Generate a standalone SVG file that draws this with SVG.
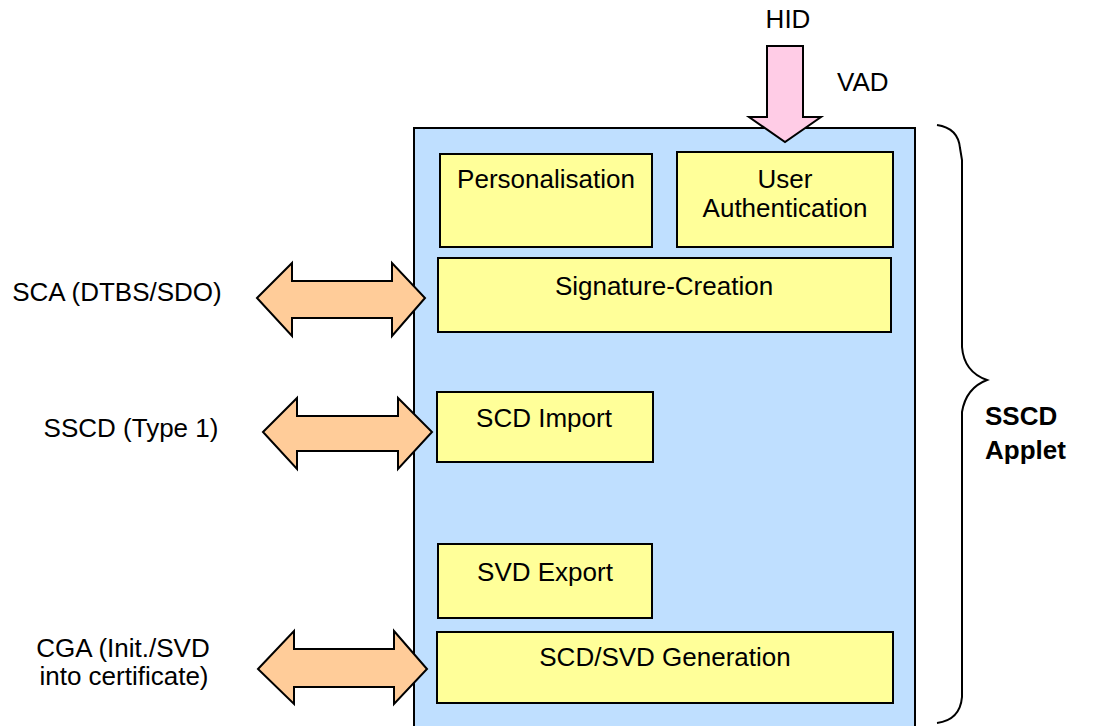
<svg xmlns="http://www.w3.org/2000/svg" width="1096" height="726" viewBox="0 0 1096 726">
<style>
.box{fill:#FFFF99;stroke:#000;stroke-width:2}
.outer{fill:#BFDFFF;stroke:#000;stroke-width:2}
.oarrow{fill:#FFCC99;stroke:#000;stroke-width:2;stroke-linejoin:miter}
.parrow{fill:#FFCCE6;stroke:#000;stroke-width:2}
text{font-family:"Liberation Sans",Arial,sans-serif;font-size:26px;fill:#000}
.c{text-anchor:middle}
.b{font-weight:bold}
</style>
<rect width="1096" height="726" fill="#fff"/>
<g id="applet">
<rect class="outer" x="414" y="128" width="501" height="610"/>
</g>
<g id="personalisation">
<rect class="box" x="440" y="154" width="212" height="93"/>
<text class="c" x="546" y="188">Personalisation</text>
</g>
<g id="user-auth">
<rect class="box" x="677" y="152" width="216" height="95"/>
<text class="c" x="785" y="188">User</text>
<text class="c" x="785" y="217">Authentication</text>
</g>
<g id="signature-creation">
<rect class="box" x="438" y="258" width="453" height="74"/>
<text class="c" x="664" y="295">Signature-Creation</text>
</g>
<g id="scd-import">
<rect class="box" x="437" y="392" width="216" height="70"/>
<text class="c" x="544" y="427">SCD Import</text>
</g>
<g id="svd-export">
<rect class="box" x="438" y="544" width="214" height="74"/>
<text class="c" x="545" y="581">SVD Export</text>
</g>
<g id="scd-svd-generation">
<rect class="box" x="437" y="632" width="456" height="71"/>
<text class="c" x="665" y="666">SCD/SVD Generation</text>
</g>
<g id="connectors">
<polygon class="parrow" points="767,46 803,46 803,117 821,117 785,142 749,117 767,117"/>
<polygon class="oarrow" points="257,298 292,263 292,281 392,281 392,263 425,298 392,336 392,318 292,318 292,336"/>
<polygon class="oarrow" points="263,432 297,398 297,416 398,416 398,398 432,432 398,469 398,451 297,451 297,469"/>
<polygon class="oarrow" points="258,669 294,631 294,649 394,649 394,631 427,669 394,704 394,687 294,687 294,704"/>
<path d="M937,125 Q958,128 960,148 L962,160 L962,347 Q964,372 987,380 Q966,388 962,412 L962,697 Q960,720 937,723" fill="none" stroke="#000" stroke-width="2"/>
</g>
<g id="labels">
<text class="c" x="788" y="28">HID</text>
<text x="837" y="91">VAD</text>
<text class="c" x="117" y="301">SCA (DTBS/SDO)</text>
<text class="c" x="131" y="437">SSCD (Type 1)</text>
<text class="c" x="123" y="657">CGA (Init./SVD</text>
<text class="c" x="124" y="685">into certificate)</text>
<text class="b" x="985" y="425">SSCD</text>
<text class="b" x="985" y="459">Applet</text>
</g>
</svg>
